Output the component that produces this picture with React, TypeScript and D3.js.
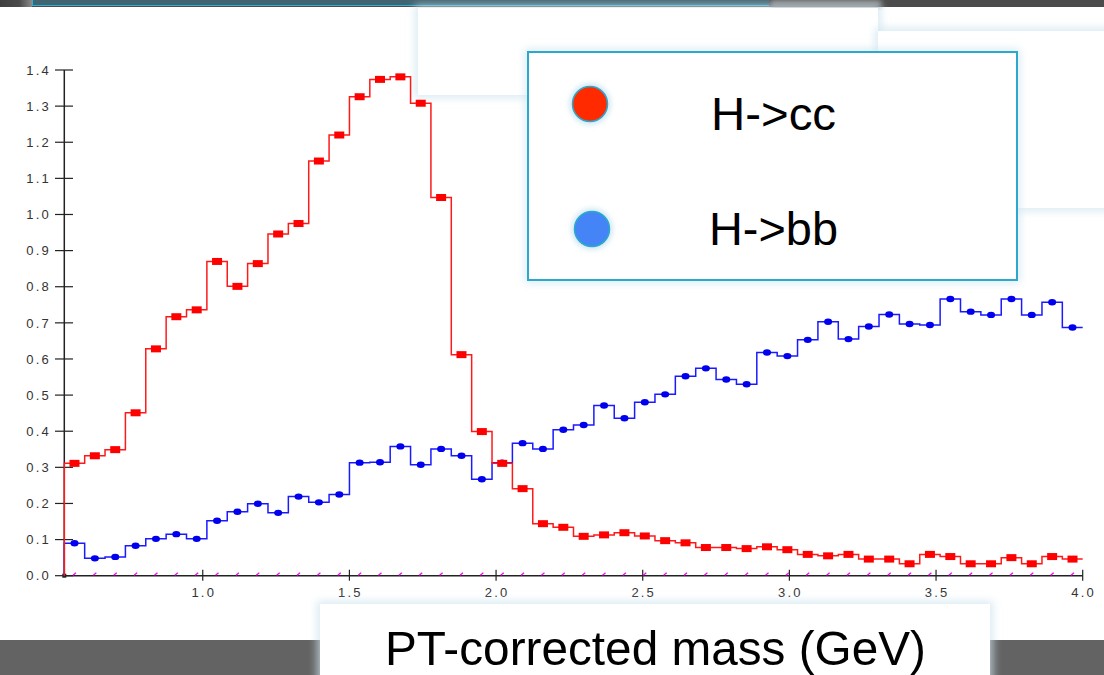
import React from "react";
import * as d3 from "d3";

// Normalised yields per bin of PT-corrected mass (GeV), 50 equal bins
const X_MIN = 0.528;
const X_MAX = 4.0;
const N_BINS = 50;

const hcc = [
  0.311, 0.332, 0.349, 0.451, 0.628, 0.717, 0.736, 0.870, 0.801, 0.864,
  0.946, 0.975, 1.148, 1.220, 1.326, 1.374, 1.381, 1.308, 1.047, 0.612,
  0.399, 0.311, 0.241, 0.144, 0.134, 0.109, 0.113, 0.119, 0.110, 0.097,
  0.091, 0.078, 0.078, 0.075, 0.080, 0.072, 0.059, 0.055, 0.059, 0.046,
  0.046, 0.033, 0.059, 0.053, 0.033, 0.033, 0.050, 0.033, 0.053, 0.046,
];

const hbb = [
  0.090, 0.048, 0.052, 0.083, 0.102, 0.115, 0.102, 0.152, 0.177, 0.199,
  0.174, 0.219, 0.203, 0.225, 0.313, 0.314, 0.358, 0.307, 0.351, 0.332,
  0.267, 0.313, 0.367, 0.351, 0.404, 0.417, 0.471, 0.436, 0.480, 0.502,
  0.552, 0.574, 0.543, 0.530, 0.618, 0.608, 0.653, 0.703, 0.655, 0.690,
  0.723, 0.697, 0.694, 0.766, 0.731, 0.722, 0.766, 0.722, 0.757, 0.687,
];

const xTicks = [1.0, 1.5, 2.0, 2.5, 3.0, 3.5, 4.0];
const yTicks = [0, 0.1, 0.2, 0.3, 0.4, 0.5, 0.6, 0.7, 0.8, 0.9, 1.0, 1.1, 1.2, 1.3, 1.4];

const legendItems = [
  { label: "H->cc", color: "#ff2a00" },
  { label: "H->bb", color: "#4584f6" },
];

const W = 1104;
const H = 675;
const FONT = "'Liberation Sans', Arial, sans-serif";

const x = d3.scaleLinear().domain([X_MIN, X_MAX]).range([64.3, 1082.7]);
const y = d3.scaleLinear().domain([0, 1.4]).range([575.7, 70]);

const binW = (X_MAX - X_MIN) / N_BINS;
const edges = d3.range(N_BINS + 1).map((i) => X_MIN + i * binW);
const centers = d3.range(N_BINS).map((i) => X_MIN + (i + 0.5) * binW);

const line = d3
  .line<[number, number]>()
  .x((d) => x(d[0]))
  .y((d) => y(d[1]));

function stepPoints(vals: number[]): [number, number][] {
  const pts: [number, number][] = [[edges[0], 0]];
  vals.forEach((v, i) => {
    pts.push([edges[i], v]);
    pts.push([edges[i + 1], v]);
  });
  return pts;
}

function Panel({ x0, y0, w, h, stroke }: { x0: number; y0: number; w: number; h: number; stroke?: string }) {
  return (
    <g>
      <rect x={x0 - 3} y={y0 - 3} width={w + 6} height={h + 6} fill="#cfe4ef" opacity={0.75} filter="url(#soft)" />
      <rect x={x0} y={y0} width={w} height={h} fill="#ffffff" stroke={stroke ?? "none"} strokeWidth={stroke ? 2 : 0} />
    </g>
  );
}

export default function App() {
  return (
    <svg
      width={W}
      height={H}
      viewBox={`0 0 ${W} ${H}`}
      style={{ position: "absolute", left: 0, top: 0, background: "#ffffff" }}
    >
      <defs>
        <filter id="soft" x="-20%" y="-20%" width="140%" height="140%">
          <feGaussianBlur stdDeviation="4" />
        </filter>
        <filter id="glow" x="-50%" y="-50%" width="200%" height="200%">
          <feGaussianBlur stdDeviation="2.5" />
        </filter>
        <linearGradient id="leftFade" x1="0" x2="1" y1="0" y2="0">
          <stop offset="0" stopColor="#3f3f3f" />
          <stop offset="0.6" stopColor="#4a4a4a" />
          <stop offset="1" stopColor="#8a8a8a" />
        </linearGradient>
      </defs>

      {/* slide frame */}
      <rect x={0} y={0} width={W} height={7} fill="#4b4b4b" />
      <rect x={0} y={0} width={32} height={7} fill="url(#leftFade)" />
      <rect x={771} y={0} width={110} height={7} fill="#8c8c8c" filter="url(#glow)" />
      <rect x={32} y={0} width={737} height={6} fill="#426471" />
      <line x1={32} x2={769} y1={5.5} y2={5.5} stroke="#2cb2d8" strokeWidth={1} />
      <line x1={32.5} x2={32.5} y1={0} y2={6} stroke="#2cb2d8" strokeWidth={1} />

      <rect x={0} y={640} width={W} height={35} fill="#636363" />

      <Panel x0={418} y0={8} w={460} h={87} />
      <Panel x0={878} y0={31} w={230} h={177} />

      {/* axes */}
      <g fontFamily={FONT} fontSize={13} fill="#333">
        <line x1={x(X_MIN)} x2={x(X_MIN)} y1={y(1.4)} y2={y(0)} stroke="#222" strokeWidth={1.5} />
        {yTicks.map((t) => (
          <g key={t}>
            <line x1={55} x2={73} y1={y(t)} y2={y(t)} stroke="#222" strokeWidth={1.2} />
            <text x={51} y={y(t)} dy="0.36em" textAnchor="end" letterSpacing={2.2}>
              {t.toFixed(1)}
            </text>
          </g>
        ))}
        <line x1={x(X_MIN)} x2={x(X_MAX)} y1={y(0)} y2={y(0)} stroke="#222" strokeWidth={1.5} />
        <rect x={x(X_MIN) - 2} y={y(0) - 2} width={4} height={4} fill="#222" />
        {xTicks.map((t) => (
          <g key={t}>
            <line x1={x(t)} x2={x(t)} y1={y(0) - 6} y2={y(0) + 5} stroke="#222" strokeWidth={1.2} />
            <text x={x(t) + 1} y={597} textAnchor="middle" letterSpacing={2.2}>
              {t.toFixed(1)}
            </text>
          </g>
        ))}
        {centers.map((c, i) => (
          <line
            key={`m${i}`}
            x1={x(c) - 1.5}
            x2={x(c) + 1.5}
            y1={y(0) - 0.5}
            y2={y(0) - 3}
            stroke="#ff00ff"
            strokeWidth={1.3}
          />
        ))}
      </g>

      {/* H->bb histogram */}
      <path d={line(stepPoints(hbb)) ?? ""} fill="none" stroke="#1a1aff" strokeWidth={1.5} />
      {hbb.map((v, i) => (
        <ellipse key={`b${i}`} cx={x(centers[i])} cy={y(v)} rx={4} ry={3.2} fill="#0000ee" />
      ))}

      {/* H->cc histogram */}
      <path d={line(stepPoints(hcc)) ?? ""} fill="none" stroke="#ff1a1a" strokeWidth={1.5} />
      {hcc.map((v, i) => (
        <rect key={`c${i}`} x={x(centers[i]) - 5} y={y(v) - 3.5} width={10} height={7} fill="#ff0000" />
      ))}

      {/* legend */}
      <Panel x0={528} y0={52} w={489} h={228} stroke="#2aa9cc" />
      {legendItems.map((d, i) => (
        <g key={d.label}>
          <circle cx={590 + i * 2} cy={104 + i * 125} r={21} fill="#d3e9f2" filter="url(#glow)" />
          <circle cx={590 + i * 2} cy={104 + i * 125} r={17.5} fill={d.color} stroke="#2aa9cc" strokeWidth={1.5} />
          <text
            x={711 - i * 2}
            y={130 + i * 115}
            fontFamily={FONT}
            fontSize={47}
            fill="#000"
            textLength={125 + i * 4}
            lengthAdjust="spacingAndGlyphs"
          >
            {d.label}
          </text>
        </g>
      ))}

      {/* axis title */}
      <Panel x0={320} y0={604} w={670} h={80} />
      <text
        x={385}
        y={665}
        fontFamily={FONT}
        fontSize={49}
        fill="#000"
        textLength={541}
        lengthAdjust="spacingAndGlyphs"
      >
        PT-corrected mass (GeV)
      </text>
    </svg>
  );
}
